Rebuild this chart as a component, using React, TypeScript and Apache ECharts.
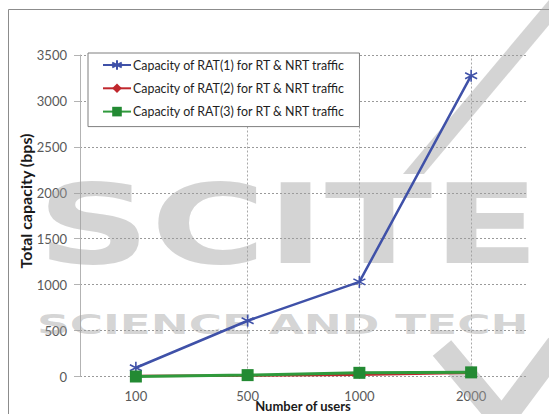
import React, { useEffect, useRef } from "react";
import * as echarts from "echarts";

const categories = ["100", "500", "1000", "2000"];
const rat1 = [95, 607, 1030, 3275];
const rat2 = [5, 10, 20, 40];
const rat3 = [0, 15, 40, 45];
const seriesNames = [
  "Capacity of RAT(1) for RT & NRT traffic",
  "Capacity of RAT(2) for RT & NRT traffic",
  "Capacity of RAT(3) for RT & NRT traffic",
];
const yMin = 0;
const yMax = 3500;
const yInterval = 500;
const verticalGridAt = ["500", "1000", "2000"];
const yTitle = "Total capacity (bps)";
const xTitle = "Number of users";
const watermarkBig = "SCITE";
const watermarkSmall = "SCIENCE AND TECH";

const FONT = "Lato, 'Open Sans', sans-serif";
const BLUE = "#3f51a8";
const RED = "#c0272d";
const GREEN = "#2f9a3c";
const GREEN_DARK = "#238a33";
const WM = "rgba(160,160,160,0.45)";

const asterisk = "path://M5,0L5,10M0.7,2.5L9.3,7.5M9.3,2.5L0.7,7.5";

export default function App() {
  const ref = useRef<HTMLDivElement>(null);
  useEffect(() => {
    if (!ref.current) return;
    const chart = echarts.init(ref.current, undefined, { renderer: "svg" });
    chart.setOption({
      animation: false,
      backgroundColor: "#ffffff",
      textStyle: { fontFamily: FONT },
      grid: { left: 80, right: 22, top: 55, bottom: 37.5, containLabel: false },
      legend: {
        orient: "vertical",
        left: 88,
        top: 53,
        padding: [6, 14, 9, 14],
        itemWidth: 28,
        itemHeight: 12,
        itemGap: 11.3,
        borderColor: "#7f7f7f",
        borderWidth: 1,
        backgroundColor: "#ffffff",
        textStyle: { fontFamily: FONT, fontSize: 12.4, color: "#1e1e1e", padding: [0, 0, 0, -3] },
        data: seriesNames,
        z: 5,
      },
      xAxis: {
        type: "category",
        data: categories,
        boundaryGap: true,
        axisLine: { show: false },
        axisTick: { show: false },
        axisLabel: { fontFamily: FONT, fontSize: 13, color: "#595959", margin: 13 },
        splitLine: { show: false },
      },
      yAxis: {
        type: "value",
        min: yMin,
        max: yMax,
        interval: yInterval,
        axisLine: { show: true, lineStyle: { color: "#b3b3b3", width: 1 } },
        axisTick: { show: true, length: 6, lineStyle: { color: "#b3b3b3" } },
        axisLabel: {
          fontFamily: FONT,
          fontSize: 13,
          color: "#595959",
          margin: 13,
          formatter: (v: number) => String(v),
        },
        splitLine: { show: true, lineStyle: { color: "#9a9a9a", type: [2, 2], width: 1 } },
      },
      series: [
        {
          name: seriesNames[0],
          type: "line",
          data: rat1,
          symbol: asterisk,
          symbolSize: 12,
          lineStyle: { color: BLUE, width: 2.5 },
          itemStyle: { color: BLUE, borderColor: BLUE, borderWidth: 1.6 },
          markLine: {
            silent: true,
            symbol: ["none", "none"],
            label: { show: false },
            lineStyle: { color: "#a8a8a8", type: [2, 2], width: 1 },
            data: verticalGridAt.map((c) => ({ xAxis: c })),
            z: 0,
          },
          z: 3,
        },
        {
          name: seriesNames[1],
          type: "line",
          data: rat2,
          symbol: "diamond",
          symbolSize: 8,
          lineStyle: { color: RED, width: 2.5 },
          itemStyle: { color: RED },
          z: 3,
        },
        {
          name: seriesNames[2],
          type: "line",
          data: rat3,
          symbol: "rect",
          symbolSize: 12,
          lineStyle: { color: GREEN, width: 3 },
          itemStyle: { color: GREEN_DARK },
          z: 4,
        },
      ],
      graphic: [
        {
          type: "rect",
          shape: { x: 8.5, y: 9.5, width: 700, height: 600 },
          style: { fill: "none", stroke: "#8c8c8c", lineWidth: 1 },
          silent: true,
          z: 0,
        },
        {
          type: "text",
          x: 37,
          y: 224,
          scaleX: 1.42,
          style: {
            text: watermarkBig,
            fontFamily: "'DejaVu Sans'",
            fontWeight: "bold",
            fontSize: 111,
            fill: WM,
            textAlign: "left",
            textVerticalAlign: "middle",
          },
          silent: true,
          z: 1,
        },
        {
          type: "text",
          x: 37,
          y: 324.5,
          scaleX: 1.68,
          style: {
            text: watermarkSmall,
            fontFamily: "'DejaVu Sans'",
            fontWeight: "bold",
            fontSize: 27,
            fill: WM,
            textAlign: "left",
            textVerticalAlign: "middle",
          },
          silent: true,
          z: 1,
        },
        {
          type: "polygon",
          shape: { points: [[403, 174], [424, 174], [570, 0], [549, 0]] },
          style: { fill: WM },
          silent: true,
          z: 1,
        },
        {
          type: "polyline",
          shape: { points: [[442, 348], [502, 420], [558, 345]] },
          style: { stroke: WM, lineWidth: 24, fill: "none" },
          silent: true,
          z: 1,
        },
        {
          type: "text",
          x: 25,
          y: 201,
          rotation: Math.PI / 2,
          style: {
            text: yTitle,
            fontFamily: FONT,
            fontWeight: "bold",
            fontSize: 16,
            fill: "#1a1a1a",
            textAlign: "center",
            textVerticalAlign: "middle",
          },
          z: 6,
        },
        {
          type: "text",
          x: 303,
          y: 406,
          style: {
            text: xTitle,
            fontFamily: FONT,
            fontWeight: "bold",
            fontSize: 13,
            fill: "#1a1a1a",
            textAlign: "center",
            textVerticalAlign: "middle",
          },
          z: 6,
        },
      ],
    });
    return () => chart.dispose();
  }, []);
  return (
    <div
      ref={ref}
      style={{ position: "absolute", left: 0, top: 0, width: 549, height: 414 }}
    />
  );
}
